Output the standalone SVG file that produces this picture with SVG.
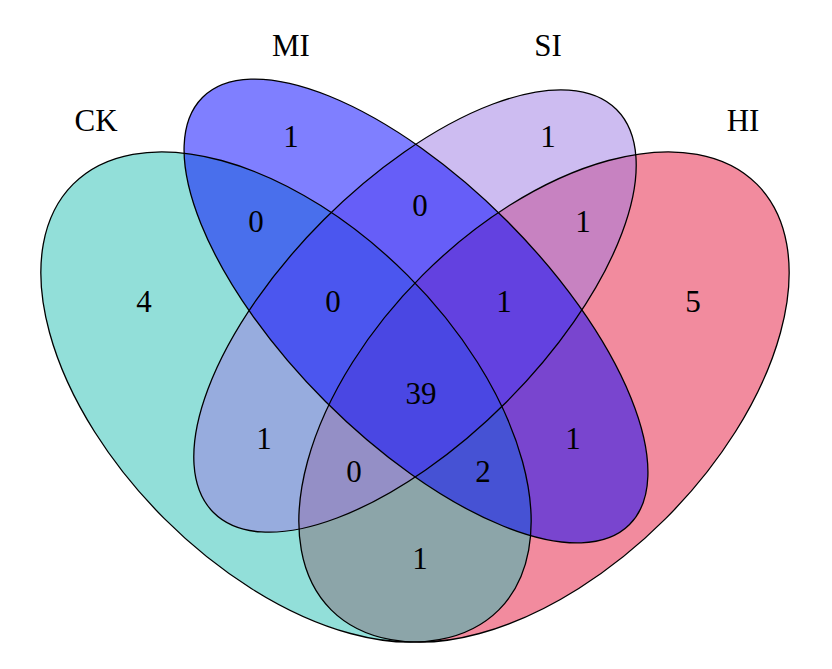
<svg xmlns="http://www.w3.org/2000/svg" xmlns:xlink="http://www.w3.org/1999/xlink" width="832" height="669" viewBox="0 0 832 669">
<style>
.fill{stroke:none;fill-opacity:0.5}
.outline{fill:none;stroke:#000;stroke-width:1.3}
.lab{font-family:"Liberation Serif","Times New Roman",serif;font-size:31px;fill:#000;text-anchor:middle}
.num{font-family:"Liberation Serif","Times New Roman",serif;font-size:31px;fill:#000;text-anchor:middle}
</style>
<defs>
<ellipse id="eHI" cx="544" cy="397" rx="301" ry="172" transform="rotate(-45 544 397)"/>
<ellipse id="eCK" cx="286" cy="397" rx="301" ry="172" transform="rotate(45 286 397)"/>
<ellipse id="eSI" cx="415" cy="311" rx="285" ry="129" transform="rotate(-45 415 311)"/>
<ellipse id="eMI" cx="416" cy="311" rx="302" ry="128" transform="rotate(45 416 311)"/>
</defs>
<rect width="832" height="669" fill="#fff"/>
<g id="HI">
<use xlink:href="#eHI" class="fill" fill="rgb(229,23,61)"/>
<text class="lab" x="743" y="131">HI</text>
</g>
<g id="CK">
<use xlink:href="#eCK" class="fill" fill="rgb(37,191,179)"/>
<text class="lab" x="96" y="131">CK</text>
</g>
<g id="SI">
<use xlink:href="#eSI" class="fill" fill="rgb(155,121,227)"/>
<text class="lab" x="548" y="56">SI</text>
</g>
<g id="MI">
<use xlink:href="#eMI" class="fill" fill="rgb(0,0,255)"/>
<text class="lab" x="291" y="56">MI</text>
</g>
<g id="outlines">
<use xlink:href="#eHI" class="outline"/>
<use xlink:href="#eCK" class="outline"/>
<use xlink:href="#eSI" class="outline"/>
<use xlink:href="#eMI" class="outline"/>
</g>
<g id="counts">
<text class="num" x="144" y="312">4</text>
<text class="num" x="291" y="147">1</text>
<text class="num" x="548" y="147">1</text>
<text class="num" x="693" y="312">5</text>
<text class="num" x="256" y="232">0</text>
<text class="num" x="420" y="216">0</text>
<text class="num" x="583" y="232">1</text>
<text class="num" x="333" y="312">0</text>
<text class="num" x="504" y="312">1</text>
<text class="num" x="421" y="404">39</text>
<text class="num" x="264" y="449">1</text>
<text class="num" x="573" y="449">1</text>
<text class="num" x="354" y="482">0</text>
<text class="num" x="483" y="482">2</text>
<text class="num" x="420" y="569">1</text>
</g>
</svg>
